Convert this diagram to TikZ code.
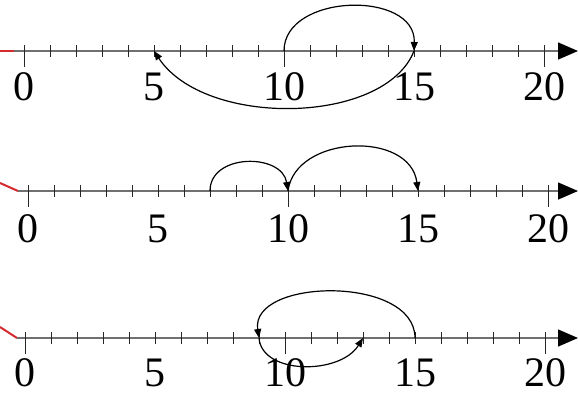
\documentclass[tikz,border=0pt]{standalone}
\usepackage{fontspec}
\setmainfont{Liberation Serif}
\usetikzlibrary{arrows.meta}
\definecolor{axisgrey}{HTML}{707070}
\definecolor{redseg}{HTML}{D52B2F}
\newcommand\mynumline[6]{% #1 name, #2 x0, #3 y, #4 label y, #5 red start y, #6 axis start x
  \foreach \i in {0,...,20}{\coordinate (#1-\i) at ({#2+26*\i},#3);}
  \coordinate (#1-s) at (#6,#3);
  \coordinate (#1-e) at (578,#3);
  \coordinate (#1-r) at (0,#5);
  \draw[redline] (#1-r) -- (#1-s);
  \draw[axisline] (#1-s) -- (#1-e);
  \foreach \i in {1,...,9,11,12,13,14,15,16,17,18,19}{\draw[tickline] (#1-\i) ++(0,-6) -- ++(0,12);}
  \foreach \i in {0,10,20}{\draw[tickline] (#1-\i) ++(0,-6) -- ++(0,22);}
  \foreach \i in {0,5,10,15,20}{\node[lbl] (#1-l\i) at ({#2+26*\i},#4) {\i};}
}
\begin{document}
\begin{tikzpicture}[x=1pt,y=-1pt,
  axisline/.style={draw=axisgrey, line width=1.4pt, -{Triangle[length=20pt,width=17pt,color=black]}},
  redline/.style={draw=redseg, line width=2pt},
  tickline/.style={draw=black!85, line width=0.8pt},
  lbl/.style={inner sep=0pt, font=\fontsize{42}{42}\selectfont},
  jump/.style={draw=black, line width=1.2pt, -{Triangle[length=9pt,width=7pt]}}]
\useasboundingbox (0,0) rectangle (578,394);
\mynumline{A}{24}{51}{87}{51}{14}
\mynumline{B}{28}{191}{229}{183}{18}
\mynumline{C}{25}{338}{373}{327}{17}
% line 1
\draw[jump] (A-10) .. controls (284,-7) and (416,-10) .. (A-15);
\draw[jump] (A-15) .. controls (385,125) and (205,128) .. (A-5);
% line 2
\draw[jump] (B-7) .. controls (210,153) and (282,153) .. (B-10);
\draw[jump] (B-10) .. controls (295,135) and (410,130) .. (B-15);
% line 3
\draw[jump] (C-15) .. controls (415,275) and (250,278) .. (C-9);
\draw[jump] (C-9) .. controls (262,375) and (340,375) .. (C-13);
\end{tikzpicture}
\end{document}
